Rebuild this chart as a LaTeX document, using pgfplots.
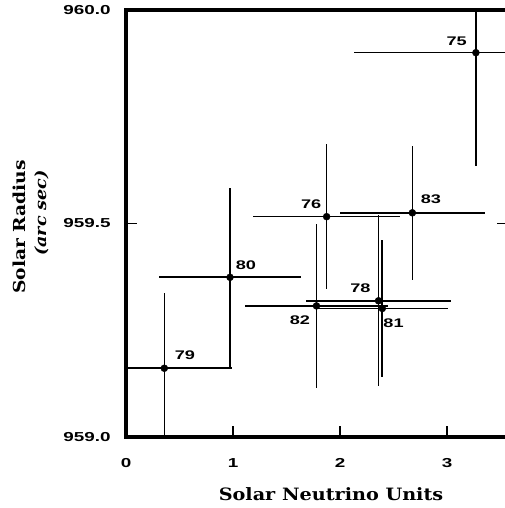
\documentclass[border=0pt]{standalone}
\usepackage{pgfplots}
\pgfplotsset{compat=1.18}
\usepackage{pgfplotstable}
\usepackage{fontspec}
\setmainfont{DejaVu Serif}
\newfontfamily\ticksans[FakeStretch=1.45]{Liberation Sans}
\newfontfamily\labserif[FakeStretch=1.13]{DejaVu Serif}

\pgfplotstableread{
x      y        ex    ey
3.27   959.900  1.14  0.265
1.875  959.516  0.69  0.170
2.676  959.525  0.68  0.157
2.360  959.319  0.68  0.200
2.395  959.301  0.61  0.160
1.780  959.307  0.67  0.192
0.972  959.374  0.66  0.210
0.358  959.161  0.63  0.177
}\radius

\begin{document}
\begin{tikzpicture}
\begin{axis}[
  scale only axis, width=382pt, height=427pt,
  xmin=0, xmax=3.57, ymin=959, ymax=960,
  xtick={0,1,2,3}, xticklabels={0,1,2,3},
  ytick={959,959.5,960}, yticklabels={959.0,959.5,960.0},
  xtick pos=lower, ytick pos=both,
  tick align=inside,
  major tick length=11pt,
  tick style={line width=1.5pt, black},
  axis line style={line width=3.5pt},
  xticklabel style={font=\ticksans\bfseries\fontsize{13}{13}\selectfont, anchor=center, yshift=-26pt},
  yticklabel style={font=\ticksans\bfseries\fontsize{13}{13}\selectfont, anchor=center, xshift=-39pt},
]
\coordinate (O) at (rel axis cs:0,0);
\addplot+[only marks, mark=*, mark size=3.5pt, black, mark options={fill=black},
  error bars/.cd, x dir=both, x explicit, y dir=both, y explicit,
  error bar style={line width=1.6pt, black}, error mark=none]
  table[x=x, y=y, x error=ex, y error=ey]{\radius};
\begin{scope}[every node/.style={font=\ticksans\bfseries\fontsize{12.5}{12.5}\selectfont}]
\node at (axis cs:3.09,959.926) {75};
\node at (axis cs:1.73,959.546) {76};
\node at (axis cs:2.85,959.557) {83};
\node at (axis cs:1.12,959.403) {80};
\node at (axis cs:2.19,959.348) {78};
\node at (axis cs:1.626,959.274) {82};
\node at (axis cs:2.50,959.266) {81};
\node at (axis cs:0.55,959.192) {79};
\end{scope}
\end{axis}
\node[font=\labserif\bfseries\fontsize{17}{17}\selectfont] at ([xshift=205pt,yshift=-57pt]O) {Solar Neutrino Units};
\node[rotate=90, font=\labserif\bfseries\fontsize{16.5}{16.5}\selectfont] at ([xshift=-107pt,yshift=210pt]O) {Solar Radius};
\node[rotate=90, font=\labserif\bfseries\itshape\fontsize{15.5}{15.5}\selectfont] at ([xshift=-84pt,yshift=224pt]O) {(arc sec)};
\pgfresetboundingbox
\useasboundingbox ([xshift=-126pt,yshift=-71pt]O) rectangle ([xshift=379pt,yshift=437pt]O);
\end{tikzpicture}
\end{document}
